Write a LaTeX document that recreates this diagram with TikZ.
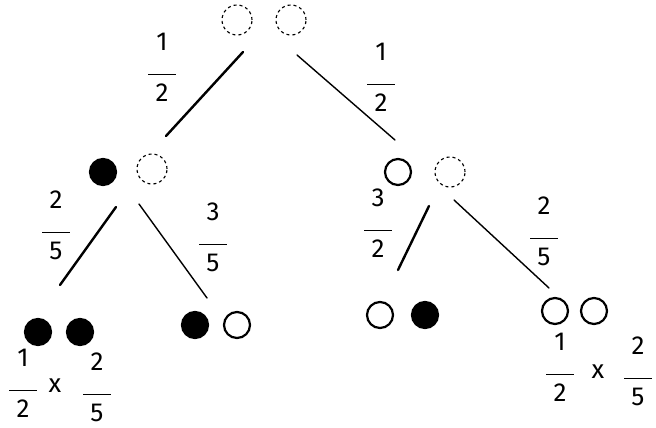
\documentclass[tikz,border=0pt]{standalone}
\usepackage{fontspec}
\setmainfont{Fira Sans}
\newcommand\fr[2]{\begin{tabular}{@{}c@{}}#1\\[-3pt]\rule{1.05em}{1.4pt}\\[-2pt]#2\end{tabular}}
\begin{document}
\begin{tikzpicture}[x=1pt,y=-1pt,
  ball/.style={circle,draw=black,line width=2.2pt,minimum width=26pt,minimum height=26pt,inner sep=0pt},
  full/.style={ball,fill=black},
  empty/.style={ball},
  ghost/.style={circle,draw=black,dashed,line width=1.1pt,minimum width=30pt,minimum height=30pt,inner sep=0pt},
  thickbranch/.style={line width=2.4pt,line cap=round},
  thinbranch/.style={line width=1.4pt,line cap=round},
  lbl/.style={font=\fontsize{26}{28}\selectfont,inner sep=0pt}]
\useasboundingbox (0,0) rectangle (656,428);
% level 0
\node[ghost] (g1) at (237,20) {};
\node[ghost] (g2) at (291,20) {};
% level 1
\node[full] (a1) at (103,172) {};
\node[ghost] (a2) at (152,169) {};
\node[empty] (b1) at (398,172) {};
\node[ghost] (b2) at (450,172) {};
% level 2
\node[full] (c1) at (38,332) {};
\node[full] (c2) at (80,332) {};
\node[full] (d1) at (195,325) {};
\node[empty] (d2) at (237,325) {};
\node[empty] (e1) at (380,315) {};
\node[full] (e2) at (425,315) {};
\node[empty] (f1) at (555,311) {};
\node[empty] (f2) at (594,311) {};
% branch end points
\coordinate (r0a) at (243,52);  \coordinate (r0b) at (166,136);
\coordinate (r1a) at (297,55);  \coordinate (r1b) at (395,140);
\coordinate (l0a) at (116,207); \coordinate (l0b) at (60,285);
\coordinate (l1a) at (139,204); \coordinate (l1b) at (207,298);
\coordinate (m0a) at (429,206); \coordinate (m0b) at (398,270);
\coordinate (m1a) at (454,200); \coordinate (m1b) at (549,288);
\draw[thickbranch] (r0a) -- (r0b);
\draw[thinbranch] (r1a) -- (r1b);
\draw[thickbranch] (l0a) -- (l0b);
\draw[thinbranch] (l1a) -- (l1b);
\draw[thickbranch] (m0a) -- (m0b);
\draw[thinbranch] (m1a) -- (m1b);
% labels
\node[lbl] (p1) at (162,70) {\fr{1}{2}};
\node[lbl] (p2) at (381,80) {\fr{1}{2}};
\node[lbl] (p3) at (56,228) {\fr{2}{5}};
\node[lbl] (p4) at (213,240) {\fr{3}{5}};
\node[lbl] (p5) at (378,226) {\fr{3}{2}};
\node[lbl] (p6) at (544,234) {\fr{2}{5}};
% products
\node[lbl] (q1a) at (23,386) {\fr{1}{2}};
\node[lbl] (q1x) at (55,386) {x};
\node[lbl] (q1b) at (97,390) {\fr{2}{5}};
\node[lbl] (q2a) at (560,370) {\fr{1}{2}};
\node[lbl] (q2x) at (598,372) {x};
\node[lbl] (q2b) at (638,374) {\fr{2}{5}};
\end{tikzpicture}
\end{document}
